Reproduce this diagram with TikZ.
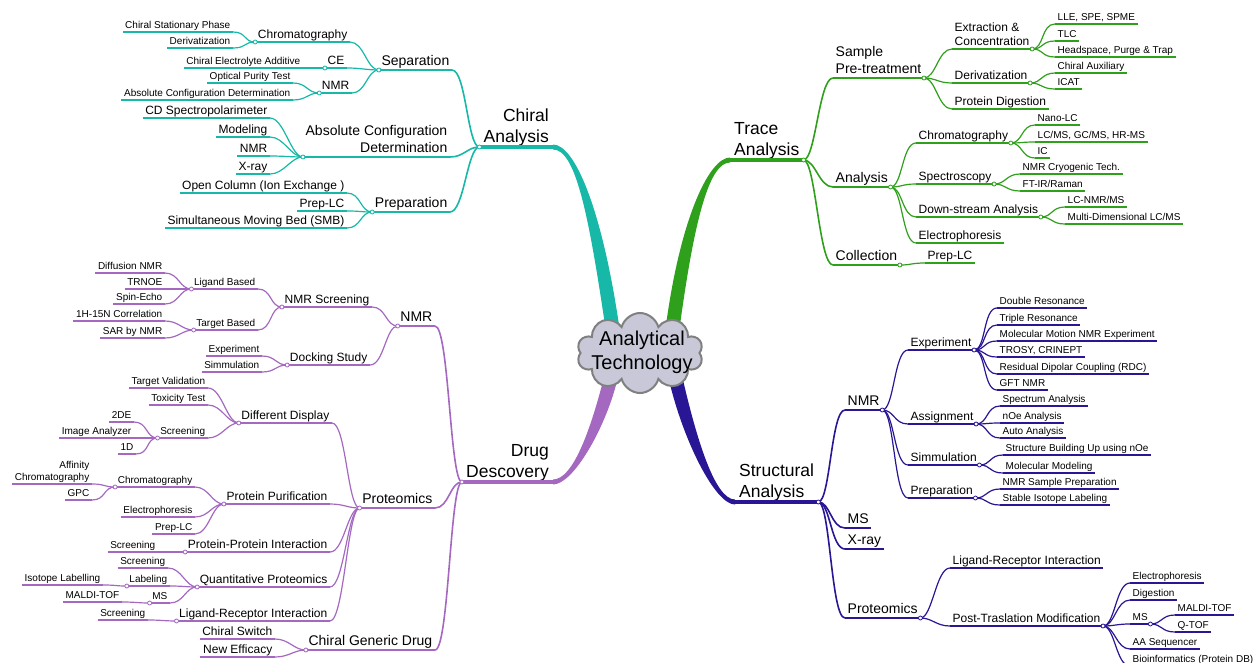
\documentclass[tikz,border=0pt]{standalone}
\usepackage{fontspec}
\setmainfont{Liberation Sans}
\usetikzlibrary{calc,shapes.symbols}
\definecolor{tealc}{RGB}{23,184,168}
\definecolor{greenc}{RGB}{46,160,28}
\definecolor{bluec}{RGB}{40,22,148}
\definecolor{purpc}{RGB}{164,104,192}
\definecolor{cloudf}{RGB}{200,200,216}
\definecolor{cloudd}{RGB}{128,128,128}
\colorlet{br}{black}
\begin{document}
\begin{tikzpicture}[x=1pt,y=-1pt,
every node/.style={inner xsep=2.5pt,inner ysep=1pt,execute at end node={\vphantom{g}}},
lft/.style={anchor=south east,align=right},
rgt/.style={anchor=south west,align=left},
ul/.style={append after command={(\tikzlastnode.south west) edge[draw=br,line width=#1] (\tikzlastnode.south east)}},
lvA/.style={font=\fontsize{17.5}{21}\selectfont,inner xsep=4pt,ul=3.5pt},
lvB/.style={font=\fontsize{14}{17}\selectfont,ul=2.2pt},
lvC/.style={font=\fontsize{12}{14}\selectfont,ul=1.6pt},
lvD/.style={font=\fontsize{10}{12}\selectfont,ul=1.3pt},
cl/.style={draw=br,line width=#1,to path={.. controls +(-12,0) and +(14,0) .. (\tikztotarget)}},
cr/.style={draw=br,line width=#1,to path={.. controls +(12,0) and +(-14,0) .. (\tikztotarget)}},
jdot/.style={fill=white,draw=br,line width=.8pt}]
\useasboundingbox (0,0) rectangle (1254,662);
\coordinate (cA) at (612,325);
\coordinate (cB) at (673,325);
\coordinate (cC) at (676,380);
\coordinate (cD) at (609,385);

\colorlet{br}{tealc}
\node[lft,lvA] (chir) at (553,147) {Chiral\\Analysis};
\node[lft,lvB] (sep) at (452,70) {Separation};
\node[lft,lvB] (acd) at (450,157) {Absolute Configuration\\Determination};
\node[lft,lvB] (prep) at (450,212) {Preparation};
\node[lft,lvC] (chr) at (350,42) {Chromatography};
\node[lft,lvC] (ce) at (347,68) {CE};
\node[lft,lvC] (nmra) at (352,93) {NMR};
\node[lft,lvC] (cds) at (270,118) {CD Spectropolarimeter};
\node[lft,lvC] (mdl) at (270,137) {Modeling};
\node[lft,lvC] (nmrb) at (270,156) {NMR};
\node[lft,lvC] (xr) at (270,174) {X-ray};
\node[lft,lvC] (ocol) at (347,193) {Open Column (Ion Exchange )};
\node[lft,lvC] (plc) at (347,211) {Prep-LC};
\node[lft,lvC] (smb) at (347,228) {Simultaneous Moving Bed (SMB)};
\node[lft,lvD] (csp) at (233,32) {Chiral Stationary Phase};
\node[lft,lvD] (der) at (233,48) {Derivatization};
\node[lft,lvD] (cea) at (303,68) {Chiral Electrolyte Additive};
\node[lft,lvD] (opt) at (293,83) {Optical Purity Test};
\node[lft,lvD] (acdt) at (293,100) {Absolute Configuration Determination};
\fill[tealc] ($(chir.south east)+(0,-2.5)$) .. controls +(22,0) and +(-17,-115) .. ($(cA)+(7,0)$) -- ($(cA)+(-7,0)$) .. controls +(-17,-115) and +(22,0) .. ($(chir.south east)+(0,2.5)$) -- cycle;
\foreach \b in {sep,acd,prep} \draw[cl=1.6pt] (chir.south west) to (\b.south east);
\foreach \a/\b in {sep/chr,sep/ce,sep/nmra,acd/cds,acd/mdl,acd/nmrb,acd/xr,prep/ocol,prep/plc,prep/smb,chr/csp,chr/der,ce/cea,nmra/opt,nmra/acdt}
  \draw[cl=1.2pt] (\a.south west) to (\b.south east);
\foreach \n in {chir,sep,acd,prep,chr,ce,nmra} \path[jdot] (\n.south west) circle (2pt);

\colorlet{br}{greenc}
\node[rgt,lvA] (trace) at (730,160) {Trace\\Analysis};
\node[rgt,lvB] (spt) at (833,78) {Sample\\Pre-treatment};
\node[rgt,lvB] (ana) at (833,187) {Analysis};
\node[rgt,lvB] (col) at (833,265) {Collection};
\node[rgt,lvC] (exc) at (952,49) {Extraction \&\\Concentration};
\node[rgt,lvC] (drv) at (952,83) {Derivatization};
\node[rgt,lvC] (pdg) at (952,109) {Protein Digestion};
\node[rgt,lvC] (chrt) at (916,143) {Chromatography};
\node[rgt,lvC] (spc) at (916,184) {Spectroscopy};
\node[rgt,lvC] (dsa) at (916,217) {Down-stream Analysis};
\node[rgt,lvC] (elp) at (916,243) {Electrophoresis};
\node[rgt,lvC] (plcb) at (925,263) {Prep-LC};
\node[rgt,lvD] (lle) at (1055,24) {LLE, SPE, SPME};
\node[rgt,lvD] (tlc) at (1055,41) {TLC};
\node[rgt,lvD] (hsp) at (1055,57) {Headspace, Purge \& Trap};
\node[rgt,lvD] (cax) at (1055,73) {Chiral Auxiliary};
\node[rgt,lvD] (icat) at (1055,89) {ICAT};
\node[rgt,lvD] (nlc) at (1035,125) {Nano-LC};
\node[rgt,lvD] (lcms) at (1035,142) {LC/MS, GC/MS, HR-MS};
\node[rgt,lvD] (ic) at (1035,158) {IC};
\node[rgt,lvD] (nmrc) at (1020,174) {NMR Cryogenic Tech.};
\node[rgt,lvD] (ftir) at (1020,191) {FT-IR/Raman};
\node[rgt,lvD] (lcn) at (1065,207) {LC-NMR/MS};
\node[rgt,lvD] (mdlc) at (1065,224) {Multi-Dimensional LC/MS};
\fill[greenc] ($(trace.south west)+(0,-2.5)$) .. controls +(-20,0) and +(15,-110) .. ($(cB)+(-7,0)$) -- ($(cB)+(7,0)$) .. controls +(15,-110) and +(-20,0) .. ($(trace.south west)+(0,2.5)$) -- cycle;
\foreach \b in {spt,ana,col} \draw[cr=1.6pt] (trace.south east) to (\b.south west);
\foreach \a/\b in {spt/exc,spt/drv,spt/pdg,ana/chrt,ana/spc,ana/dsa,ana/elp,col/plcb,exc/lle,exc/tlc,exc/hsp,drv/cax,drv/icat,chrt/nlc,chrt/lcms,chrt/ic,spc/nmrc,spc/ftir,dsa/lcn,dsa/mdlc}
  \draw[cr=1.2pt] (\a.south east) to (\b.south west);
\foreach \n in {trace,spt,ana,col,exc,drv,chrt,spc,dsa} \path[jdot] (\n.south east) circle (2pt);

\colorlet{br}{bluec}
\node[rgt,lvA] (struct) at (735,502) {Structural\\Analysis};
\node[rgt,lvB] (nmrs) at (845,410) {NMR};
\node[rgt,lvB] (ms) at (845,528) {MS};
\node[rgt,lvB] (xray) at (845,549) {X-ray};
\node[rgt,lvB] (prt) at (845,618) {Proteomics};
\node[rgt,lvC] (expt) at (908,350) {Experiment};
\node[rgt,lvC] (asg) at (908,424) {Assignment};
\node[rgt,lvC] (sim) at (908,465) {Simmulation};
\node[rgt,lvC] (prp) at (908,498) {Preparation};
\node[rgt,lvC] (lri) at (950,568) {Ligand-Receptor Interaction};
\node[rgt,lvC] (ptm) at (950,626) {Post-Traslation Modification};
\node[rgt,lvD] (dres) at (997,308) {Double Resonance};
\node[rgt,lvD] (tres) at (997,325) {Triple Resonance};
\node[rgt,lvD] (mmn) at (997,341) {Molecular Motion NMR Experiment};
\node[rgt,lvD] (tros) at (997,357) {TROSY, CRINEPT};
\node[rgt,lvD] (rdc) at (997,374) {Residual Dipolar Coupling (RDC)};
\node[rgt,lvD] (gft) at (997,390) {GFT NMR};
\node[rgt,lvD] (spa) at (1000,406) {Spectrum Analysis};
\node[rgt,lvD] (noe) at (1000,423) {nOe Analysis};
\node[rgt,lvD] (aut) at (1000,438) {Auto Analysis};
\node[rgt,lvD] (sbu) at (1003,455) {Structure Building Up using nOe};
\node[rgt,lvD] (mmo) at (1003,473) {Molecular Modeling};
\node[rgt,lvD] (nsp) at (1000,489) {NMR Sample Preparation};
\node[rgt,lvD] (sil) at (1000,505) {Stable Isotope Labeling};
\node[rgt,lvD] (ele) at (1130,583) {Electrophoresis};
\node[rgt,lvD] (dig) at (1130,600) {Digestion};
\node[rgt,lvD] (msp) at (1130,624) {MS};
\node[rgt,lvD] (aas) at (1130,649) {AA Sequencer};
\node[rgt,lvD] (bio) at (1130,666) {Bioinformatics (Protein DB)};
\node[rgt,lvD] (mal) at (1175,615) {MALDI-TOF};
\node[rgt,lvD] (qtof) at (1175,632) {Q-TOF};
\fill[bluec] ($(struct.south west)+(0,2.5)$) .. controls +(-20,0) and +(14,60) .. ($(cC)+(-7,0)$) -- ($(cC)+(7,0)$) .. controls +(14,60) and +(-20,0) .. ($(struct.south west)+(0,-2.5)$) -- cycle;
\foreach \b in {nmrs,ms,xray,prt} \draw[cr=1.6pt] (struct.south east) to (\b.south west);
\foreach \a/\b in {nmrs/expt,nmrs/asg,nmrs/sim,nmrs/prp,prt/lri,prt/ptm,expt/dres,expt/tres,expt/mmn,expt/tros,expt/rdc,expt/gft,asg/spa,asg/noe,asg/aut,sim/sbu,sim/mmo,prp/nsp,prp/sil,ptm/ele,ptm/dig,ptm/msp,ptm/aas,ptm/bio,msp/mal,msp/qtof}
  \draw[cr=1.2pt] (\a.south east) to (\b.south west);
\foreach \n in {struct,nmrs,prt,expt,asg,sim,prp,ptm,msp} \path[jdot] (\n.south east) circle (2pt);

\colorlet{br}{purpc}
\node[lft,lvA] (drug) at (553,482) {Drug\\Descovery};
\node[lft,lvB] (nmrd) at (435,326) {NMR};
\node[lft,lvB] (prot) at (435,508) {Proteomics};
\node[lft,lvB] (cgd) at (435,650) {Chiral Generic Drug};
\node[lft,lvC] (nscr) at (372,307) {NMR Screening};
\node[lft,lvC] (dock) at (370,365) {Docking Study};
\node[lft,lvC] (ddis) at (332,423) {Different Display};
\node[lft,lvC] (ppur) at (330,504) {Protein Purification};
\node[lft,lvC] (ppi) at (330,552) {Protein-Protein Interaction};
\node[lft,lvC] (qprot) at (330,587) {Quantitative Proteomics};
\node[lft,lvC] (lrib) at (330,621) {Ligand-Receptor Interaction};
\node[lft,lvC] (csw) at (275,639) {Chiral Switch};
\node[lft,lvC] (neff) at (275,657) {New Efficacy};
\node[lft,lvD] (lgb) at (258,289) {Ligand Based};
\node[lft,lvD] (tgb) at (258,330) {Target Based};
\node[lft,lvD] (dexp) at (262,356) {Experiment};
\node[lft,lvD] (dsim) at (262,372) {Simmulation};
\node[lft,lvD] (tval) at (208,388) {Target Validation};
\node[lft,lvD] (tox) at (208,405) {Toxicity Test};
\node[lft,lvD] (scr) at (208,438) {Screening};
\node[lft,lvD] (pchr) at (195,487) {Chromatography};
\node[lft,lvD] (pel) at (195,517) {Electrophoresis};
\node[lft,lvD] (plcc) at (195,534) {Prep-LC};
\node[lft,lvD] (scrb) at (158,552) {Screening};
\node[lft,lvD] (scrc) at (168,568) {Screening};
\node[lft,lvD] (lab) at (170,586) {Labeling};
\node[lft,lvD] (msq) at (170,603) {MS};
\node[lft,lvD] (scrd) at (148,620) {Screening};
\node[lft,lvD] (dnmr) at (165,273) {Diffusion NMR};
\node[lft,lvD] (trn) at (165,289) {TRNOE};
\node[lft,lvD] (spe) at (165,304) {Spin-Echo};
\node[lft,lvD] (hn) at (165,321) {1H-15N Correlation};
\node[lft,lvD] (sar) at (165,338) {SAR by NMR};
\node[lft,lvD] (tde) at (134,422) {2DE};
\node[lft,lvD] (img) at (134,438) {Image Analyzer};
\node[lft,lvD] (oned) at (136,454) {1D};
\node[lft,lvD] (aff) at (92,484) {Affinity\\Chromatography};
\node[lft,lvD] (gpc) at (92,500) {GPC};
\node[lft,lvD] (iso) at (103,585) {Isotope Labelling};
\node[lft,lvD] (mald) at (122,602) {MALDI-TOF};
\fill[purpc] ($(drug.south east)+(0,2.5)$) .. controls +(20,0) and +(-12,45) .. ($(cD)+(7,0)$) -- ($(cD)+(-7,0)$) .. controls +(-12,45) and +(20,0) .. ($(drug.south east)+(0,-2.5)$) -- cycle;
\foreach \b in {nmrd,prot,cgd} \draw[cl=1.6pt] (drug.south west) to (\b.south east);
\foreach \a/\b in {nmrd/nscr,nmrd/dock,prot/ddis,prot/ppur,prot/ppi,prot/qprot,prot/lrib,cgd/csw,cgd/neff,nscr/lgb,nscr/tgb,dock/dexp,dock/dsim,ddis/tval,ddis/tox,ddis/scr,ppur/pchr,ppur/pel,ppur/plcc,ppi/scrb,qprot/scrc,qprot/lab,qprot/msq,lrib/scrd,lgb/dnmr,lgb/trn,lgb/spe,tgb/hn,tgb/sar,scr/tde,scr/img,scr/oned,pchr/aff,pchr/gpc,lab/iso,msq/mald}
  \draw[cl=1.2pt] (\a.south west) to (\b.south east);
\foreach \n in {drug,nmrd,prot,cgd,nscr,dock,ddis,ppur,ppi,qprot,lrib,lgb,tgb,scr,pchr,lab,msq} \path[jdot] (\n.south west) circle (2pt);

\node[cloud,cloud puffs=10,cloud ignores aspect,minimum width=126pt,minimum height=80pt,inner sep=0pt,fill=cloudf,draw=cloudd,line width=2pt] (ctr) at (640,353) {};
\node[font=\fontsize{20}{24}\selectfont,align=center] (ctrt) at (642,352) {Analytical\\Technology};
\end{tikzpicture}
\end{document}
